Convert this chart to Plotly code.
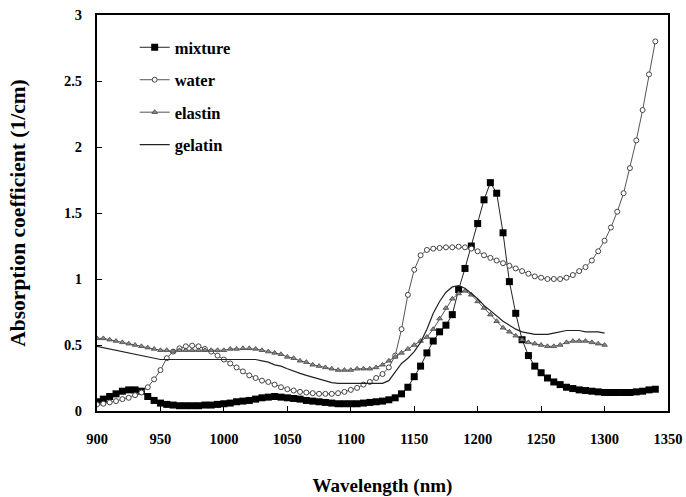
import plotly.graph_objects as go

wl_long = list(range(900, 1345, 5))   # 900..1340
wl_short = list(range(900, 1305, 5))  # 900..1300

mixture = [0.07, 0.09, 0.11, 0.13, 0.15, 0.16, 0.16, 0.15, 0.11, 0.08,
           0.06, 0.05, 0.045, 0.04, 0.04, 0.04, 0.04, 0.045, 0.045, 0.05,
           0.055, 0.06, 0.07, 0.075, 0.08, 0.09, 0.10, 0.105, 0.11, 0.105,
           0.10, 0.095, 0.09, 0.08, 0.075, 0.07, 0.065, 0.06, 0.055, 0.055,
           0.055, 0.055, 0.06, 0.065, 0.07, 0.075, 0.085, 0.10, 0.13, 0.18,
           0.26, 0.34, 0.44, 0.53, 0.60, 0.65, 0.73, 0.92, 1.08, 1.25,
           1.42, 1.60, 1.73, 1.65, 1.35, 0.98, 0.74, 0.54, 0.42, 0.34,
           0.29, 0.25, 0.22, 0.20, 0.18, 0.17, 0.16, 0.155, 0.15, 0.145,
           0.14, 0.14, 0.14, 0.14, 0.14, 0.145, 0.15, 0.16, 0.165]

water = [0.05, 0.055, 0.065, 0.075, 0.09, 0.10, 0.12, 0.14, 0.18, 0.24,
         0.31, 0.40, 0.45, 0.475, 0.49, 0.495, 0.49, 0.47, 0.45, 0.42,
         0.39, 0.36, 0.33, 0.30, 0.27, 0.25, 0.23, 0.22, 0.20, 0.18,
         0.165, 0.155, 0.145, 0.14, 0.135, 0.13, 0.13, 0.13, 0.135, 0.145,
         0.16, 0.175, 0.20, 0.22, 0.25, 0.28, 0.33, 0.42, 0.62, 0.88,
         1.07, 1.18, 1.22, 1.23, 1.235, 1.24, 1.24, 1.245, 1.24, 1.23,
         1.21, 1.18, 1.16, 1.14, 1.12, 1.10, 1.08, 1.06, 1.04, 1.02,
         1.01, 1.00, 1.00, 1.00, 1.01, 1.03, 1.06, 1.09, 1.14, 1.21,
         1.29, 1.39, 1.51, 1.65, 1.84, 2.05, 2.28, 2.55, 2.80]

elastin = [0.55, 0.55, 0.54, 0.53, 0.52, 0.51, 0.50, 0.49, 0.48, 0.47,
           0.46, 0.46, 0.45, 0.46, 0.46, 0.46, 0.46, 0.46, 0.46, 0.46,
           0.46, 0.47, 0.47, 0.475, 0.475, 0.47, 0.46, 0.45, 0.44, 0.43,
           0.41, 0.40, 0.38, 0.37, 0.35, 0.34, 0.33, 0.32, 0.31, 0.31,
           0.31, 0.32, 0.32, 0.32, 0.33, 0.35, 0.38, 0.41, 0.44, 0.47,
           0.50, 0.53, 0.56, 0.62, 0.70, 0.78, 0.85, 0.89, 0.91, 0.88,
           0.83, 0.78, 0.73, 0.68, 0.63, 0.60, 0.57, 0.54, 0.52, 0.51,
           0.50, 0.49, 0.49, 0.50, 0.52, 0.53, 0.53, 0.53, 0.52, 0.51,
           0.50]

gelatin = [0.49, 0.48, 0.47, 0.46, 0.45, 0.44, 0.43, 0.42, 0.41, 0.40,
           0.39, 0.39, 0.39, 0.39, 0.39, 0.39, 0.39, 0.39, 0.39, 0.39,
           0.39, 0.39, 0.39, 0.39, 0.39, 0.39, 0.38, 0.37, 0.35, 0.34,
           0.32, 0.30, 0.285, 0.27, 0.255, 0.24, 0.225, 0.215, 0.21, 0.21,
           0.21, 0.21, 0.21, 0.21, 0.21, 0.21, 0.23, 0.30, 0.36, 0.40,
           0.45, 0.52, 0.62, 0.74, 0.83, 0.90, 0.94, 0.95, 0.93, 0.89,
           0.85, 0.80, 0.76, 0.72, 0.68, 0.65, 0.62, 0.60, 0.59, 0.58,
           0.58, 0.58, 0.59, 0.60, 0.61, 0.61, 0.61, 0.60, 0.60, 0.60,
           0.59]

x_ticks = [900, 950, 1000, 1050, 1100, 1150, 1200, 1250, 1300, 1350]
y_ticks = [0, 0.5, 1, 1.5, 2, 2.5, 3]
y_tick_text = ["0", "0.5", "1", "1.5", "2", "2.5", "3"]

SERIF = "Liberation Serif"

fig = go.Figure()
fig.add_trace(go.Scatter(
    x=wl_long, y=mixture, name="<b>mixture</b>", mode="lines+markers",
    line=dict(color="#222", width=1),
    marker=dict(symbol="square", size=7, color="black"),
    legendgroup="a"))
fig.add_trace(go.Scatter(
    x=wl_long, y=water, name="<b>water</b>", mode="lines+markers",
    line=dict(color="#555", width=1),
    marker=dict(symbol="circle", size=5, color="white",
                line=dict(color="#444", width=1)),
    legendgroup="b"))
fig.add_trace(go.Scatter(
    x=wl_short, y=elastin, name="<b>elastin</b>", mode="lines+markers",
    line=dict(color="#555", width=1),
    marker=dict(symbol="triangle-up", size=5, color="#888",
                line=dict(color="#444", width=0.8)),
    legendgroup="c"))
fig.add_trace(go.Scatter(
    x=wl_short, y=gelatin, name="<b>gelatin</b>", mode="lines",
    line=dict(color="#222", width=1.2),
    legendgroup="d"))

fig.update_layout(
    width=686, height=497,
    margin=dict(l=97, r=18, t=15, b=86, autoexpand=False),
    paper_bgcolor="white", plot_bgcolor="white",
    font=dict(family=SERIF, size=14, color="black"),
    showlegend=True,
    legend=dict(x=0.066, y=0.962, xanchor="left", yanchor="top",
                bgcolor="rgba(0,0,0,0)", tracegroupgap=8,
                font=dict(family=SERIF, size=16.5, color="black")),
    xaxis=dict(
        range=[900, 1350], tickvals=x_ticks, automargin=False,
        ticktext=["<b>%d</b>" % v for v in x_ticks],
        ticks="inside", ticklen=5, tickcolor="black",
        showline=True, linecolor="black", linewidth=2, mirror=True,
        showgrid=False, zeroline=False,
        tickfont=dict(family=SERIF, size=14.5), ticklabelstandoff=14,
        title=dict(text="<b>Wavelength (nm)</b>", standoff=34,
                   font=dict(family=SERIF, size=19))),
    yaxis=dict(
        range=[0, 3], tickvals=y_ticks, automargin=False,
        ticktext=["<b>%s</b>" % t for t in y_tick_text],
        ticks="inside", ticklen=5, tickcolor="black",
        showline=True, linecolor="black", linewidth=2, mirror=True,
        showgrid=False, zeroline=False,
        tickfont=dict(family=SERIF, size=14.5), ticklabelstandoff=10,
        title=dict(text="<b>Absorption coefficient (1/cm)</b>", standoff=32,
                   font=dict(family=SERIF, size=21.5))),
)

fig.write_html("out.html",
               config={"displayModeBar": False},
               post_script="document.body.style.margin='0';"
                           "document.body.style.overflow='hidden';")
